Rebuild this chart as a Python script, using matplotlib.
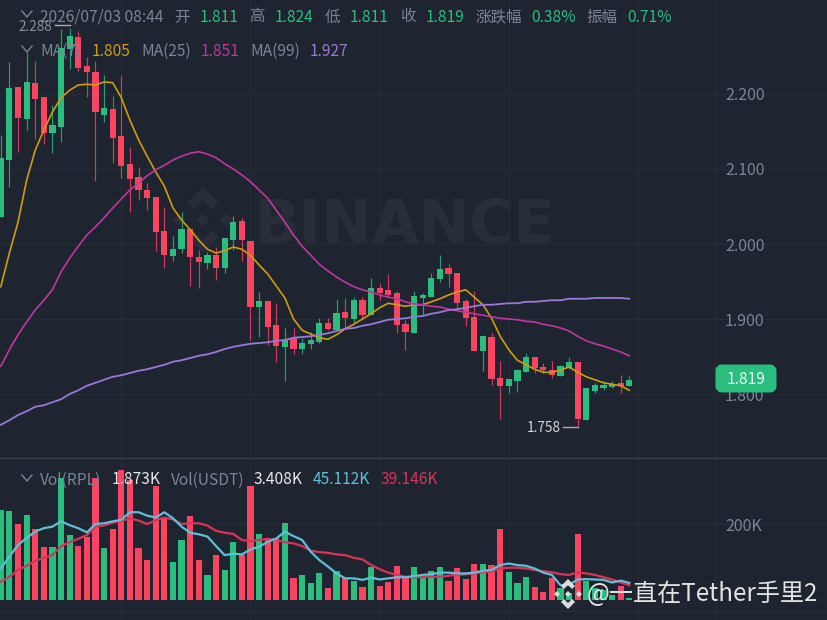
import matplotlib
matplotlib.use("Agg")
import matplotlib.pyplot as plt
from matplotlib.patches import Polygon, FancyBboxPatch

plt.rcParams['font.family'] = ['Noto Sans CJK SC', 'DejaVu Sans']

###data###
opens = [2.036,2.112,2.209,2.167,2.215,2.196,2.148,2.156,2.260,2.276,2.237,2.229,2.172,2.180,2.144,2.107,2.089,2.072,2.063,2.017,
         1.984,1.993,2.020,1.983,1.975,1.985,1.968,2.005,2.031,2.004,1.916,1.924,1.892,1.863,1.875,1.860,1.867,1.869,1.895,1.885,
         1.909,1.900,1.925,1.905,1.941,1.939,1.935,1.893,1.881,1.928,1.929,1.953,1.968,1.961,1.924,1.903,1.857,1.876,1.821,1.811,
         1.817,1.829,1.849,1.836,1.832,1.824,1.835,1.843,1.765,1.804,1.808,1.809,1.815,1.811]
highs = [2.145,2.243,2.209,2.256,2.244,2.196,2.185,2.287,2.288,2.284,2.249,2.244,2.225,2.197,2.224,2.129,2.103,2.081,2.063,2.049,
         2.011,2.043,2.020,1.992,1.989,1.996,2.008,2.037,2.035,2.004,1.936,1.924,1.921,1.888,1.888,1.875,1.883,1.901,1.901,1.927,
         1.928,1.929,1.929,1.955,1.947,1.960,1.937,1.899,1.937,1.935,1.961,1.985,1.973,1.961,1.927,1.937,1.879,1.881,1.844,1.820,
         1.833,1.855,1.849,1.841,1.844,1.839,1.849,1.843,1.808,1.815,1.817,1.817,1.825,1.824]
lows = [2.036,2.076,2.123,2.152,2.140,2.133,2.121,2.136,2.233,2.231,2.196,2.084,2.163,2.108,2.088,2.043,2.059,2.045,1.991,1.968,
        1.977,1.988,1.944,1.941,1.967,1.952,1.961,1.992,1.977,1.872,1.876,1.865,1.843,1.817,1.853,1.853,1.860,1.868,1.885,1.885,
        1.888,1.895,1.900,1.905,1.925,1.929,1.881,1.859,1.881,1.905,1.929,1.949,1.943,1.913,1.891,1.857,1.831,1.812,1.767,1.801,
        1.803,1.829,1.828,1.828,1.821,1.824,1.833,1.758,1.765,1.801,1.805,1.808,1.801,1.811]
closes = [2.115,2.208,2.168,2.216,2.193,2.148,2.159,2.261,2.277,2.235,2.229,2.176,2.181,2.141,2.104,2.087,2.072,2.061,2.016,1.985,
          1.993,2.020,1.983,1.976,1.985,1.968,2.008,2.029,2.005,1.916,1.924,1.889,1.864,1.872,1.860,1.868,1.872,1.895,1.887,1.908,
          1.901,1.925,1.905,1.941,1.935,1.932,1.892,1.883,1.931,1.932,1.955,1.967,1.960,1.921,1.901,1.857,1.877,1.820,1.811,1.820,
          1.832,1.849,1.835,1.832,1.825,1.837,1.843,1.767,1.808,1.812,1.812,1.813,1.811,1.819]
ma7 = [1.943,1.988,2.029,2.085,2.125,2.152,2.176,2.195,2.205,2.212,2.213,2.212,2.216,2.215,2.195,2.165,2.139,2.117,2.096,2.077,
       2.048,2.032,2.019,2.005,1.993,1.988,1.991,1.996,1.993,1.985,1.972,1.960,1.944,1.928,1.900,1.885,1.880,1.875,1.873,1.879,
       1.887,1.893,1.900,1.907,1.915,1.921,1.919,1.917,1.919,1.919,1.923,1.927,1.932,1.936,1.939,1.929,1.919,1.901,1.877,1.859,
       1.845,1.839,1.833,1.829,1.829,1.832,1.836,1.829,1.823,1.819,1.815,1.813,1.811,1.805]
ma25 = [1.837,1.859,1.879,1.896,1.912,1.925,1.939,1.963,1.981,1.997,2.012,2.023,2.035,2.048,2.060,2.072,2.081,2.091,2.099,2.105,
        2.112,2.117,2.121,2.123,2.120,2.115,2.107,2.100,2.092,2.083,2.072,2.061,2.045,2.029,2.012,1.997,1.985,1.973,1.964,1.956,
        1.949,1.943,1.939,1.936,1.932,1.929,1.927,1.923,1.920,1.919,1.917,1.916,1.913,1.911,1.909,1.907,1.905,1.903,1.901,1.900,
        1.899,1.897,1.896,1.893,1.891,1.888,1.884,1.877,1.871,1.867,1.864,1.860,1.856,1.851]
ma99 = [1.759,1.765,1.772,1.777,1.783,1.785,1.789,1.793,1.800,1.805,1.811,1.815,1.819,1.823,1.825,1.828,1.831,1.833,1.836,1.839,
        1.843,1.845,1.848,1.851,1.853,1.856,1.860,1.863,1.865,1.867,1.868,1.869,1.871,1.872,1.875,1.876,1.877,1.879,1.881,1.884,
        1.887,1.888,1.891,1.893,1.896,1.899,1.900,1.901,1.903,1.904,1.907,1.909,1.912,1.913,1.915,1.917,1.919,1.919,1.920,1.921,
        1.921,1.923,1.923,1.924,1.925,1.925,1.927,1.927,1.927,1.928,1.928,1.928,1.928,1.927]
volumes = [237,234,199,225,187,139,139,320,172,143,167,320,136,187,342,316,136,105,301,219,
           101,158,222,105,66,118,79,152,118,301,173,162,162,202,57,66,46,70,31,76,
           57,51,35,88,37,48,89,63,88,57,77,86,51,83,55,95,96,91,186,75,
           44,60,35,20,57,31,18,174,51,31,26,13,37,4]
vol_ma_blue = [83,114,145,163,180,189,193,207,197,189,178,200,202,207,211,231,231,222,217,231,
               215,193,177,173,167,142,118,122,120,133,140,153,162,180,168,158,127,105,88,70,
               57,57,53,59,54,57,60,60,63,66,68,72,72,70,70,72,77,79,92,96,
               92,90,83,72,66,39,40,54,55,54,53,46,51,45]
vol_ma_red = [48,61,79,90,103,111,118,142,152,161,171,193,196,204,208,215,209,200,210,217,
              212,200,202,202,196,182,177,174,158,155,158,161,158,152,149,142,130,126,124,120,
              118,111,107,92,81,72,66,61,60,60,61,61,64,66,68,70,73,75,83,85,
              85,83,79,76,73,68,66,73,70,66,60,54,46,39]
price_ticks = [1.8, 1.9, 2.0, 2.1, 2.2]
vol_ticks = [200]
grid_candles = [14, 29, 44, 59, 74]
##########

BG = "#1e2530"
GRID = "#262d38"
UP = "#2bbd7e"
DOWN = "#fb4560"
GREY = "#7b8494"
GOLD = "#d09c0a"
MAGENTA = "#c0369f"
PURPLE = "#9a78d8"
TEAL = "#5cc0d6"
VOLRED = "#d8345a"
W, H = 828, 620
SPLIT = 458

fig = plt.figure(figsize=(W / 100, H / 100), dpi=100, facecolor=BG)

###watermark layer under the chart###
back = fig.add_axes([0, 0, 1, 1], zorder=0)
back.set_xlim(0, W)
back.set_ylim(H, 0)
back.axis("off")


def logo(ax, cx, cy, r, color):
    top = [(0, -1), (0.47, -0.53), (0.27, -0.33), (0, -0.6), (-0.27, -0.33), (-0.47, -0.53)]
    shapes = [top, [(x, -y) for x, y in top]]
    for dx in (-0.73, 0, 0.73):
        shapes.append([(dx, -0.2), (dx + 0.2, 0), (dx, 0.2), (dx - 0.2, 0)])
    for s in shapes:
        ax.add_patch(Polygon([(cx + x * r, cy + y * r) for x, y in s], closed=True, fc=color, ec="none"))


logo(back, 203, 220, 33, "#272e39")
back.text(254, 226, "BINANCE", color="#272e39", fontsize=43.5, fontweight="bold", va="center", ha="left",
          family=["DejaVu Sans"])
back.plot([715, 715], [0, H], color=GRID, lw=0.8)

###price pane###
ax = fig.add_axes([0, 1 - SPLIT / H, 1, SPLIT / H], zorder=1)
ax.patch.set_visible(False)
xs = list(range(len(closes)))
x_left, x_right = -0.09, 96.07
ax.set_xlim(x_left, x_right)
ax.set_ylim(1.7147, 2.3253)
ax.set_xticks([])
ax.set_yticks([])
for s in ax.spines.values():
    s.set_visible(False)
for p in price_ticks:
    ax.axhline(p, color=GRID, lw=0.8, zorder=0)
    ax.text(725 / W, p, "%.3f" % p, transform=ax.get_yaxis_transform(), color=GREY, fontsize=11.5, va="center_baseline")
for g in grid_candles:
    ax.axvline(g, color=GRID, lw=0.8, zorder=0)

colors = [UP if c >= o else DOWN for o, c in zip(opens, closes)]
ax.vlines(xs, lows, highs, colors=colors, lw=0.85, alpha=0.8, zorder=2)
ax.bar(xs, [abs(c - o) for o, c in zip(opens, closes)], bottom=[min(o, c) for o, c in zip(opens, closes)],
       width=0.72, color=colors, zorder=3)
ax.plot(xs, ma7, color=GOLD, lw=1.2, zorder=4)
ax.plot(xs, ma25, color=MAGENTA, lw=1.2, zorder=4)
ax.plot(xs, ma99, color=PURPLE, lw=1.3, zorder=4)

###volume pane###
vax = fig.add_axes([0, 0, 1, (H - SPLIT) / H], zorder=1)
vax.patch.set_visible(False)
vax.set_xlim(x_left, x_right)
vax.set_ylim(-52.6, 373.7)
vax.set_xticks([])
vax.set_yticks([])
for s in vax.spines.values():
    s.set_visible(False)
vax.spines["top"].set_visible(True)
vax.spines["top"].set_color("#3a414d")
vax.spines["top"].set_linewidth(1.0)
for v in vol_ticks:
    vax.axhline(v, color=GRID, lw=0.8, zorder=0)
    vax.text(725 / W, v, "%dK" % v, transform=vax.get_yaxis_transform(), color=GREY, fontsize=11.5, va="center_baseline")
vax.axhline(-29, color=GRID, lw=0.8, zorder=0)
for g in grid_candles:
    vax.axvline(g, color=GRID, lw=0.8, zorder=0)
vax.bar(xs, volumes, width=0.72, color=colors, zorder=2)
vax.plot(xs, vol_ma_red, color=VOLRED, lw=1.6, zorder=3)
vax.plot(xs, vol_ma_blue, color=TEAL, lw=1.6, zorder=4)

###text layer###
top = fig.add_axes([0, 0, 1, 1], zorder=2)
top.set_xlim(0, W)
top.set_ylim(H, 0)
top.axis("off")


def label(x, y, s, color=GREY, size=11.2, **kw):
    top.text(x, y, s, color=color, fontsize=size, va="center", ha="left", **kw)


def chevron(x, y):
    top.plot([x - 5, x, x + 5], [y - 3, y + 3, y - 3], color=GREY, lw=1.0)


chevron(27, 14)
chevron(27, 49)
chevron(27, 478)

header = [(40, "2026/07/03 08:44", GREY), (174, "开", GREY), (200, "1.811", UP), (249, "高", GREY), (275, "1.824", UP),
          (325, "低", GREY), (350, "1.811", UP), (400, "收", GREY), (426, "1.819", UP), (475, "涨跌幅", GREY),
          (531, "0.38%", UP), (586, "振幅", GREY), (627, "0.71%", UP)]
for x, s, c in header:
    label(x, 17, s, c)

ma_row = [(40, "MA(7)", GREY), (92, "1.805", GOLD), (141, "MA(25)", GREY), (201, "1.851", MAGENTA),
          (250, "MA(99)", GREY), (310, "1.927", PURPLE)]
for x, s, c in ma_row:
    label(x, 51, s, c)

vol_row = [(40, "Vol(RPL)", GREY), (112, "1.873K", "#e8e8e8"), (171, "Vol(USDT)", GREY), (254, "3.408K", "#e8e8e8"),
           (313, "45.112K", TEAL), (381, "39.146K", VOLRED)]
for x, s, c in vol_row:
    label(x, 480, s, c)

label(18, 27, "2.288", "#8a919c", 9.8)
top.plot([55, 70], [25, 25], color="#a8adb5", lw=1.0)
label(527, 428, "1.758", "#d5d7da", 9.8)
top.plot([563, 578], [427, 427], color="#a8adb5", lw=1.0)

###current price tag###
top.add_patch(FancyBboxPatch((719, 368), 54, 21, boxstyle="round,pad=0,rounding_size=3", fc=UP, ec=UP, lw=5))
top.text(746, 380, "1.819", color="#eafff5", fontsize=11.2, ha="center", va="center")

###repost mark###
logo(top, 568, 594, 15, "#dcdcdc")
top.text(587, 594, "@一直在Tether手里2", color="#e2e2e2", fontsize=17.4, ha="left", va="center")

fig.savefig("out.png", dpi=100, facecolor=BG)
